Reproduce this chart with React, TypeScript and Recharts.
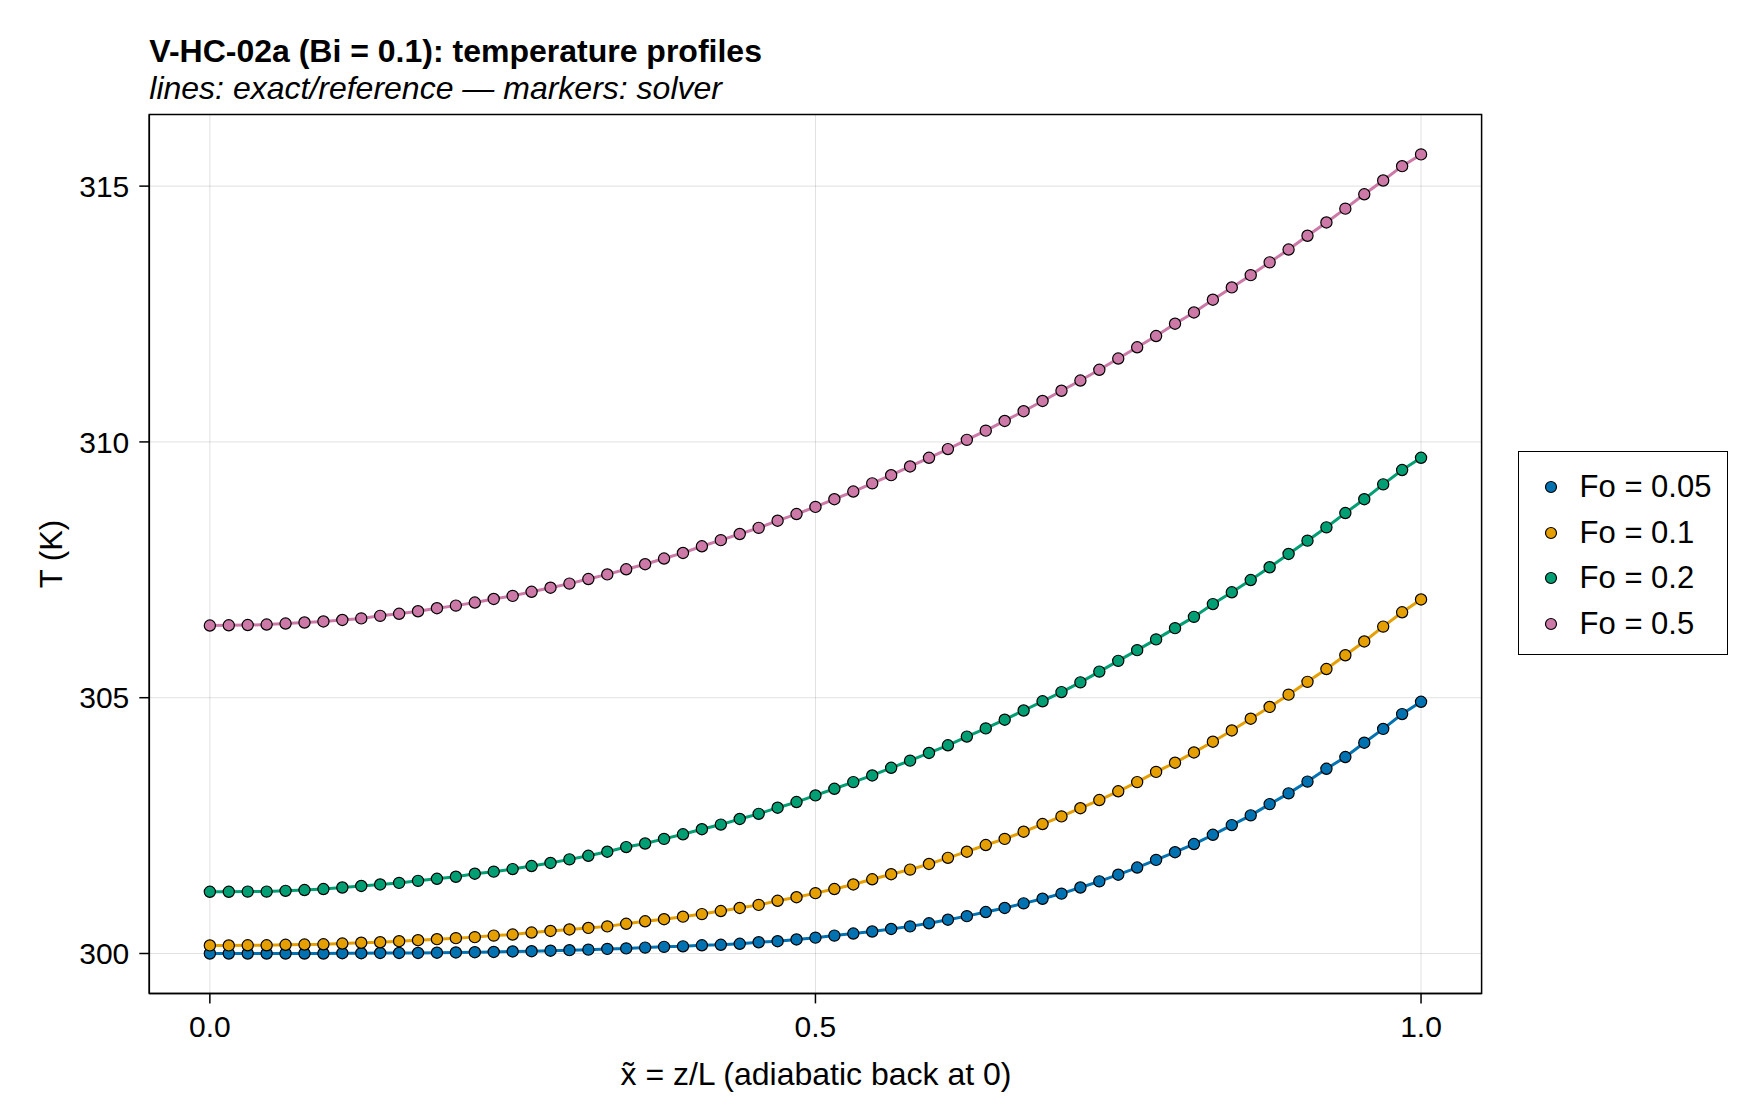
import React from 'react';
import { LineChart, Line, XAxis, YAxis, CartesianGrid, ReferenceArea, Legend } from 'recharts';

// x̃ = z/L grid (65 nodes)
const X_VALUES = [
  0, 0.015625, 0.03125, 0.046875, 0.0625, 0.078125, 0.09375, 0.109375, 0.125, 0.140625,
  0.15625, 0.171875, 0.1875, 0.203125, 0.21875, 0.234375, 0.25, 0.265625, 0.28125, 0.296875,
  0.3125, 0.328125, 0.34375, 0.359375, 0.375, 0.390625, 0.40625, 0.421875, 0.4375, 0.453125,
  0.46875, 0.484375, 0.5, 0.515625, 0.53125, 0.546875, 0.5625, 0.578125, 0.59375, 0.609375,
  0.625, 0.640625, 0.65625, 0.671875, 0.6875, 0.703125, 0.71875, 0.734375, 0.75, 0.765625,
  0.78125, 0.796875, 0.8125, 0.828125, 0.84375, 0.859375, 0.875, 0.890625, 0.90625, 0.921875,
  0.9375, 0.953125, 0.96875, 0.984375, 1,
];

// Temperature (K) per Fourier number
const T_FO_005 = [
  300.0, 300.0, 300.0, 300.0, 300.0, 300.0, 300.0, 300.005, 300.005, 300.01,
  300.01, 300.01, 300.015, 300.02, 300.025, 300.03, 300.04, 300.045, 300.055, 300.065,
  300.075, 300.09, 300.1, 300.115, 300.13, 300.14, 300.16, 300.17, 300.19, 300.22,
  300.24, 300.275, 300.31, 300.35, 300.39, 300.43, 300.48, 300.53, 300.59, 300.66,
  300.73, 300.81, 300.89, 300.98, 301.07, 301.17, 301.29, 301.41, 301.54, 301.68,
  301.83, 301.98, 302.14, 302.32, 302.51, 302.7, 302.92, 303.13, 303.36, 303.61,
  303.84, 304.12, 304.39, 304.68, 304.92,
];
const T_FO_01 = [
  300.158, 300.158, 300.16, 300.16, 300.17, 300.175, 300.18, 300.195, 300.21, 300.22,
  300.24, 300.26, 300.28, 300.3, 300.32, 300.35, 300.37, 300.41, 300.44, 300.47,
  300.5, 300.53, 300.58, 300.63, 300.67, 300.72, 300.77, 300.83, 300.89, 300.95,
  301.03, 301.1, 301.18, 301.26, 301.35, 301.45, 301.55, 301.64, 301.75, 301.87,
  301.99, 302.12, 302.24, 302.38, 302.53, 302.68, 302.84, 303.0, 303.17, 303.35,
  303.55, 303.73, 303.93, 304.14, 304.36, 304.59, 304.82, 305.06, 305.31, 305.56,
  305.83, 306.1, 306.39, 306.67, 306.92,
];
const T_FO_02 = [
  301.206, 301.206, 301.21, 301.21, 301.225, 301.24, 301.26, 301.29, 301.32, 301.35,
  301.38, 301.42, 301.46, 301.5, 301.56, 301.6, 301.65, 301.71, 301.77, 301.84,
  301.91, 301.99, 302.08, 302.15, 302.24, 302.33, 302.43, 302.52, 302.63, 302.73,
  302.85, 302.96, 303.09, 303.22, 303.35, 303.48, 303.63, 303.77, 303.92, 304.07,
  304.24, 304.4, 304.57, 304.75, 304.93, 305.11, 305.3, 305.51, 305.72, 305.93,
  306.14, 306.36, 306.58, 306.83, 307.06, 307.3, 307.55, 307.81, 308.07, 308.33,
  308.61, 308.88, 309.17, 309.45, 309.69,
];
const T_FO_05 = [
  306.41, 306.415, 306.42, 306.43, 306.45, 306.47, 306.49, 306.52, 306.55, 306.6,
  306.64, 306.69, 306.75, 306.8, 306.86, 306.93, 306.99, 307.07, 307.15, 307.23,
  307.32, 307.41, 307.51, 307.61, 307.72, 307.83, 307.96, 308.08, 308.2, 308.32,
  308.46, 308.59, 308.73, 308.88, 309.03, 309.19, 309.35, 309.52, 309.69, 309.86,
  310.04, 310.22, 310.41, 310.6, 310.8, 311.0, 311.2, 311.41, 311.63, 311.85,
  312.07, 312.31, 312.53, 312.78, 313.02, 313.26, 313.51, 313.76, 314.03, 314.29,
  314.56, 314.84, 315.11, 315.39, 315.62,
];

const SERIES_NAMES = ['Fo = 0.05', 'Fo = 0.1', 'Fo = 0.2', 'Fo = 0.5'];
const SERIES_VALUES = [T_FO_005, T_FO_01, T_FO_02, T_FO_05];
const COLORS = ['#0072B2', '#E69F00', '#009E73', '#CC79A7'];

const X_TICKS = [0, 0.5, 1];
const X_TICK_LABELS = ['0.0', '0.5', '1.0'];
const Y_TICKS = [300, 305, 310, 315];
const X_DOMAIN = [-0.05, 1.05];
const Y_DOMAIN = [299.22, 316.4];

const TITLE = 'V-HC-02a (Bi = 0.1): temperature profiles';
const SUBTITLE = 'lines: exact/reference \u2014 markers: solver';
const X_LABEL = 'x\u0303 = z/L (adiabatic back at 0)';
const Y_LABEL = 'T (K)';

const FONT = '"Liberation Sans", Arial, Helvetica, sans-serif';

const data = X_VALUES.map((x, i) => {
  const row: Record<string, number> = { x };
  SERIES_VALUES.forEach((vals, k) => {
    row[`s${k}`] = vals[i];
  });
  return row;
});

const renderLegend = () => (
  <div
    style={{
      width: 210,
      height: 204,
      border: '1.5px solid #000',
      boxSizing: 'border-box',
      background: '#fff',
      position: 'relative',
      fontFamily: FONT,
    }}
  >
    {SERIES_NAMES.map((name, k) => (
      <div
        key={name}
        style={{
          position: 'absolute',
          left: 0,
          top: 34.8 + k * 45.67 - 20,
          height: 40,
          display: 'flex',
          alignItems: 'center',
          whiteSpace: 'nowrap',
        }}
      >
        <svg width={61} height={40} style={{ display: 'block' }}>
          <circle cx={32} cy={20} r={5.5} fill={COLORS[k]} stroke="#000" strokeWidth={1.2} />
        </svg>
        <span style={{ fontSize: 31, color: '#000', lineHeight: '40px' }}>{name}</span>
      </div>
    ))}
  </div>
);

export default function App() {
  return (
    <div
      style={{
        position: 'absolute',
        left: 0,
        top: 0,
        width: 1760,
        height: 1120,
        background: '#fff',
        fontFamily: FONT,
      }}
    >
      <LineChart
        width={1760}
        height={1120}
        data={data}
        margin={{ top: 114.5, right: 278.4, bottom: 66.6, left: 49.3 }}
      >
        <CartesianGrid stroke="rgba(0,0,0,0.12)" strokeWidth={1} />
        <XAxis
          dataKey="x"
          type="number"
          domain={X_DOMAIN}
          ticks={X_TICKS}
          interval={0}
          allowDataOverflow
          tickFormatter={(v: number) => X_TICK_LABELS[X_TICKS.indexOf(v)] ?? String(v)}
          height={60}
          tickSize={10}
          tickMargin={12}
          axisLine={{ stroke: '#000', strokeWidth: 1.5 }}
          tickLine={{ stroke: '#000', strokeWidth: 1.5 }}
          tick={{ fill: '#000', fontSize: 30, fontFamily: FONT }}
        />
        <YAxis
          type="number"
          domain={Y_DOMAIN}
          ticks={Y_TICKS}
          interval={0}
          allowDataOverflow
          width={100}
          tickSize={10}
          tickMargin={10}
          axisLine={{ stroke: '#000', strokeWidth: 1.5 }}
          tickLine={{ stroke: '#000', strokeWidth: 1.5 }}
          tick={{ fill: '#000', fontSize: 30, fontFamily: FONT }}
        />
        <ReferenceArea
          x1={X_DOMAIN[0]}
          x2={X_DOMAIN[1]}
          y1={Y_DOMAIN[0]}
          y2={Y_DOMAIN[1]}
          fill="none"
          stroke="#000"
          strokeWidth={1.5}
          ifOverflow="visible"
        />
        {SERIES_NAMES.map((name, k) => (
          <Line
            key={`line-${k}`}
            type="linear"
            dataKey={`s${k}`}
            name={name}
            stroke={COLORS[k]}
            strokeWidth={3}
            dot={false}
            activeDot={false}
            legendType="none"
            isAnimationActive={false}
          />
        ))}
        {SERIES_NAMES.map((name, k) => (
          <Line
            key={`dots-${k}`}
            type="linear"
            dataKey={`s${k}`}
            name={name}
            stroke="none"
            dot={{ r: 5.6, fill: COLORS[k], stroke: '#000', strokeWidth: 1.2 }}
            activeDot={false}
            isAnimationActive={false}
          />
        ))}
        <Legend
          layout="vertical"
          align="center"
          verticalAlign="middle"
          content={renderLegend}
          wrapperStyle={{ left: 1517.6, top: 451.2, width: 210, height: 204 }}
        />
      </LineChart>
      <svg
        width={1760}
        height={1120}
        style={{ position: 'absolute', left: 0, top: 0, pointerEvents: 'none' }}
      >
        <text x={149.3} y={62} fontFamily={FONT} fontSize={32} fontWeight="bold" fill="#000">
          {TITLE}
        </text>
        <text x={149.3} y={99} fontFamily={FONT} fontSize={32} fontStyle="italic" fill="#000">
          {SUBTITLE}
        </text>
        <text x={816} y={1085} fontFamily={FONT} fontSize={32} textAnchor="middle" fill="#000">
          {X_LABEL}
        </text>
        <text
          transform="translate(51,554) rotate(-90)"
          dy="0.35em"
          fontFamily={FONT}
          fontSize={31}
          textAnchor="middle"
          fill="#000"
        >
          {Y_LABEL}
        </text>
      </svg>
    </div>
  );
}
